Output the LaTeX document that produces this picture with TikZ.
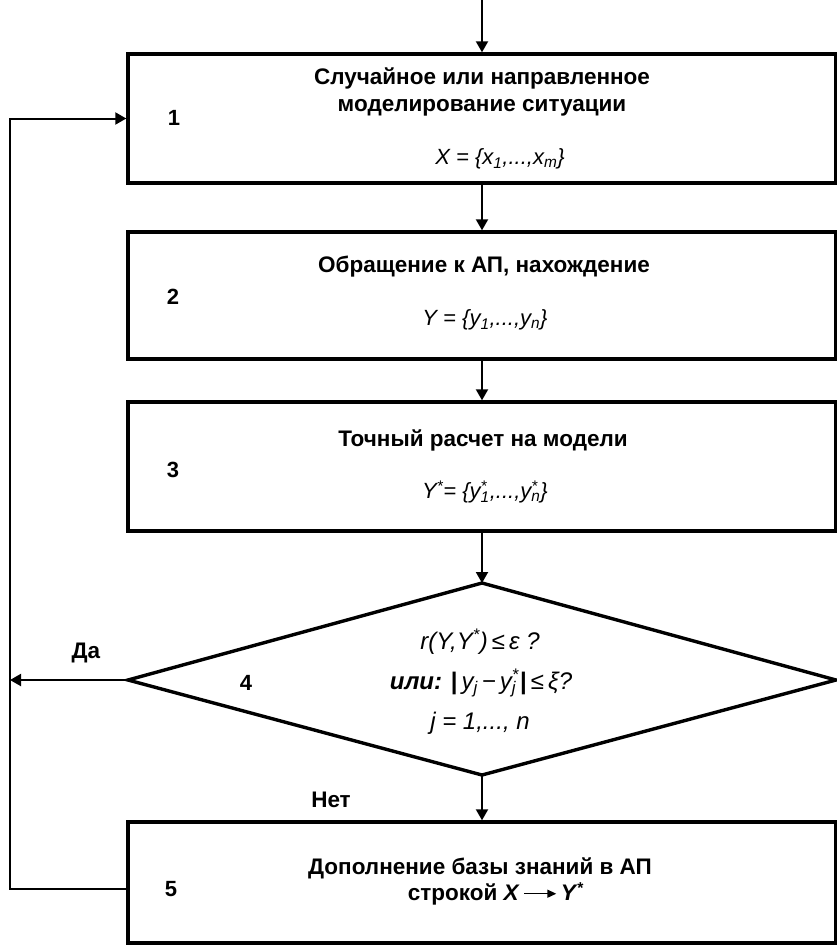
\documentclass[tikz,border=0pt]{standalone}
\usepackage{fontspec}
\setmainfont{Liberation Sans}
\usetikzlibrary{arrows.meta}
\newcommand\starsub[1]{\rlap{\textsuperscript{*}}\textsubscript{#1}}
\begin{document}
\begin{tikzpicture}[x=1pt,y=-1pt,
  box/.style={draw, line width=3.4pt, minimum width=708pt, inner sep=0pt},
  conn/.style={line width=2pt, -{Triangle[length=11pt,width=12pt]}},
  txt/.style={font=\fontsize{22.5}{27}\selectfont\bfseries, align=center, inner sep=0pt},
  frm/.style={font=\fontsize{22}{26}\selectfont\itshape, inner sep=0pt},
  dfrm/.style={font=\fontsize{24}{28}\selectfont\itshape, inner sep=0pt},
  num/.style={font=\fontsize{22}{26}\selectfont\bfseries, inner sep=0pt}]
\useasboundingbox (0,0) rectangle (837,951);
\fill[white] (0,0) rectangle (837,951);
\coordinate (top) at (482,0);
\coordinate (lc) at (10,0);
\node[box, minimum height=129pt] (b1) at (482,118.5) {};
\node[box, minimum height=127pt] (b2) at (482,295.5) {};
\node[box, minimum height=129pt] (b3) at (482,466.5) {};
\node[box, minimum height=121pt] (b5) at (482,882.5) {};
\coordinate (dt) at (482,583);
\coordinate (dl) at (128,680);
\coordinate (dr) at (836,680);
\coordinate (db) at (482,775);
\draw[line width=3.4pt] (dt) -- (dr) -- (db) -- (dl) -- cycle;
% connectors
\draw[conn] (top) -- (b1.north);
\draw[conn] (b1.south) -- (b2.north);
\draw[conn] (b2.south) -- (b3.north);
\draw[conn] (b3.south) -- (dt);
\draw[conn] (db) -- (b5.north);
\draw[conn] (dl) -- (dl -| lc);
\draw[conn] ([yshift=-6pt]b5.west) -- ([yshift=-6pt]b5.west -| lc) -- (b1.west -| lc) -- (b1.west);
% texts
\node[txt] (t1) at (482,92) {Случайное или направленное\\моделирование ситуации};
\node[frm] (f1) at (500,159) {X = \{x\textsubscript{1},...,x\textsubscript{m}\}};
\node[num] (n1) at (174,118) {1};
\node[txt] (t2) at (484,267) {Обращение к АП, нахождение};
\node[frm] (f2) at (485,320) {Y = \{y\textsubscript{1},...,y\textsubscript{n}\}};
\node[num] (n2) at (173,297) {2};
\node[txt] (t3) at (483,440) {Точный расчет на модели};
\node[frm] (f3) at (485,492) {Y\textsuperscript{*}= \{y\starsub{1},...,y\starsub{n}\}};
\node[num] (n3) at (173,470) {3};
\node[dfrm] (d1) at (480,642) {r(Y,Y\textsuperscript{*})\,≤\,ε ?};
\node[dfrm] (d2) at (481,683) {\textbf{или:} {\upshape\bfseries|}\,y\textsubscript{j}\,−\,y\starsub{j}\,{\upshape\bfseries|}\,≤\,ξ?};
\node[dfrm] (d3) at (480,723) {j = 1,..., n};
\node[num] (n4) at (246,683) {4};
\node[txt] (da) at (86,653) {Да};
\node[txt] (net) at (331,800) {Нет};
\node[num] (n5) at (171,889) {5};
\node[txt] (t5a) at (480,868) {Дополнение базы знаний в АП};
\node[txt] (t5b) at (496,894) {строкой \textit{X}\,\tikz[baseline=-0.6ex]\draw[line width=1.4pt,-{Triangle[length=9pt,width=8pt]}] (0pt,0pt)--(32pt,0pt);\,\textit{Y}\textsuperscript{*}};
\end{tikzpicture}
\end{document}
